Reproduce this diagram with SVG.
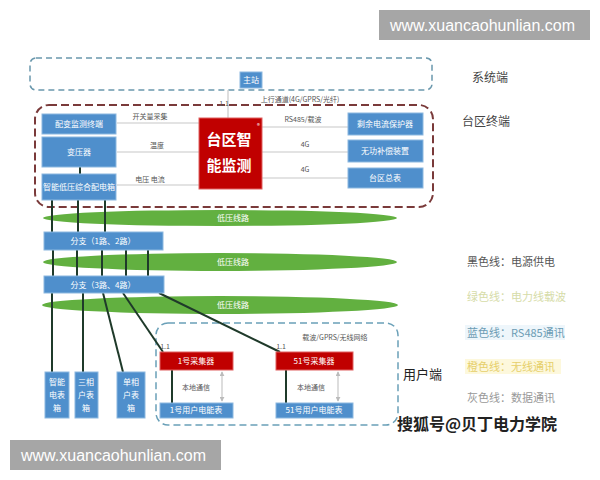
<svg xmlns="http://www.w3.org/2000/svg" width="600" height="480" viewBox="0 0 600 480">
<defs>
<style>
text{font-family:"Noto Sans CJK SC","Liberation Sans",sans-serif}
.bb{fill:#4f8fcc;stroke:#8cb8e0;stroke-width:1}
.rb{fill:#c00000;stroke:#e06060;stroke-width:1}
.wt{fill:#ffffff;font-size:8px;text-anchor:middle}
.lb{fill:#555;font-size:7px;text-anchor:middle}
.gl{stroke:#c8c8c8;stroke-width:1.2;fill:none}
.pw{stroke:#1f3a2a;stroke-width:2;fill:none}
.ell{fill:#62b040}
.leg{font-size:11px}
.wm{fill:#a6a6a6}
.wmt{fill:#fff;font-family:"Liberation Sans",sans-serif;font-size:16px}
</style>
<marker id="ah" viewBox="0 0 6 6" refX="5" refY="3" markerWidth="5" markerHeight="5" orient="auto-start-reverse"><path d="M0,0L6,3L0,6z" fill="#bbb"/></marker>
</defs>
<rect width="600" height="480" fill="#ffffff"/>

<!-- region frames -->
<rect x="30" y="58" width="402" height="32" rx="6" fill="none" stroke="#6a98ad" stroke-width="1.5" stroke-dasharray="6,4"/>
<rect x="35" y="105" width="398" height="102" rx="14" fill="none" stroke="#7a3a3a" stroke-width="2" stroke-dasharray="8,4"/>
<rect x="156" y="323" width="242" height="102" rx="12" fill="none" stroke="#6aa0b8" stroke-width="1.5" stroke-dasharray="7,4"/>

<!-- green ellipses -->
<g id="line1"><ellipse class="ell" cx="220" cy="218" rx="177" ry="8"/><text class="wt" x="233" y="221" font-size="7">低压线路</text></g>
<g id="line2"><ellipse class="ell" cx="220" cy="262" rx="177" ry="9"/><text class="wt" x="233" y="265" font-size="7">低压线路</text></g>
<g id="line3"><ellipse class="ell" cx="220" cy="305" rx="178" ry="9"/><text class="wt" x="233" y="308" font-size="7">低压线路</text></g>

<!-- connectors -->
<g id="connectors">
<line class="gl" x1="228" y1="90" x2="228" y2="118"/>
<line class="gl" x1="117" y1="123" x2="199" y2="123"/>
<line class="gl" x1="117" y1="152" x2="199" y2="152"/>
<line class="gl" x1="117" y1="185" x2="199" y2="185"/>
<line class="gl" x1="262" y1="127" x2="348" y2="127"/>
<line class="gl" x1="262" y1="152" x2="348" y2="152"/>
<line class="gl" x1="262" y1="178" x2="348" y2="178"/>
<line class="pw" x1="80" y1="167" x2="80" y2="174"/>
<line class="pw" x1="52" y1="200" x2="52" y2="232"/>
<line class="pw" x1="78" y1="200" x2="78" y2="232"/>
<line class="pw" x1="105" y1="200" x2="105" y2="232"/>
<line class="pw" x1="53" y1="250" x2="53" y2="276"/>
<line class="pw" x1="77" y1="250" x2="77" y2="276"/>
<line class="pw" x1="102" y1="250" x2="102" y2="276"/>
<line class="pw" x1="126" y1="250" x2="126" y2="276"/>
<line class="pw" x1="148" y1="250" x2="148" y2="276"/>
<line class="pw" x1="52" y1="293" x2="52" y2="372"/>
<line class="pw" x1="83" y1="293" x2="83" y2="372"/>
<line class="pw" x1="103" y1="293" x2="123" y2="372"/>
<line class="pw" x1="123" y1="293" x2="163" y2="352"/>
<line class="pw" x1="159" y1="293" x2="280" y2="352"/>
<line class="pw" x1="172" y1="370" x2="172" y2="403"/>
<line class="pw" x1="286" y1="370" x2="286" y2="403"/>
<line stroke="#bbb" stroke-width="1" x1="222" y1="372" x2="222" y2="401" marker-start="url(#ah)" marker-end="url(#ah)"/>
<line stroke="#bbb" stroke-width="1" x1="338" y1="372" x2="338" y2="401" marker-start="url(#ah)" marker-end="url(#ah)"/>
</g>

<!-- connector labels -->
<text class="lb" x="300" y="102" fill="#7a9a6a">上行通道(4G/GPRS/光纤)</text>
<text class="lb" x="224" y="106" font-size="6">1.1</text>
<text class="lb" x="150" y="119">开关量采集</text>
<text class="lb" x="157" y="148">温度</text>
<text class="lb" x="150" y="182">电压  电流</text>
<text class="lb" x="303" y="122">RS485/载波</text>
<text class="lb" x="305" y="147">4G</text>
<text class="lb" x="305" y="172">4G</text>
<text class="lb" x="335" y="340">载波/GPRS/无线网络</text>
<text class="lb" x="165" y="349" font-size="6">1.1</text>
<text class="lb" x="281" y="349" font-size="6">1.1</text>
<text class="lb" x="196" y="390">本地通信</text>
<text class="lb" x="311" y="390">本地通信</text>

<!-- nodes -->
<g id="master"><rect class="bb" x="240" y="72" width="22" height="16"/><text class="wt" x="251" y="83" font-size="7">主站</text></g>
<g id="tmonitor"><rect class="bb" x="42" y="114" width="74" height="20"/><text class="wt" x="79" y="127">配变监测终端</text></g>
<g id="transformer"><rect class="bb" x="42" y="137" width="74" height="30"/><text class="wt" x="79" y="155">变压器</text></g>
<g id="dist"><rect class="bb" x="42" y="174" width="74" height="26"/><text class="wt" x="79" y="190" font-size="7">智能低压综合配电箱</text></g>
<g id="smart"><rect class="rb" x="199" y="118" width="63" height="71"/><text x="229" y="145" fill="#fff" font-size="15" text-anchor="middle" font-weight="bold">台区智</text><text x="229" y="171" fill="#fff" font-size="15" text-anchor="middle" font-weight="bold">能监测</text><text x="257" y="128" fill="#fff" font-size="6">®</text></g>
<g id="rcd"><rect class="bb" x="348" y="113" width="75" height="22"/><text class="wt" x="385" y="127">剩余电流保护器</text></g>
<g id="comp"><rect class="bb" x="348" y="140" width="75" height="22"/><text class="wt" x="385" y="154">无功补偿装置</text></g>
<g id="meter"><rect class="bb" x="348" y="168" width="75" height="20"/><text class="wt" x="385" y="181">台区总表</text></g>
<g id="branch1"><rect class="bb" x="44" y="232" width="119" height="18"/><text class="wt" x="103" y="244">分支（1路、2路）</text></g>
<g id="branch2"><rect class="bb" x="44" y="276" width="120" height="17"/><text class="wt" x="103" y="288">分支（3路、4路）</text></g>
<g id="box1"><rect class="bb" x="45" y="372" width="24" height="46"/><text class="wt" x="57" y="385" font-size="7">智能</text><text class="wt" x="57" y="398" font-size="7">电表</text><text class="wt" x="57" y="411" font-size="7">箱</text></g>
<g id="box2"><rect class="bb" x="75" y="372" width="23" height="46"/><text class="wt" x="86" y="385" font-size="7">三相</text><text class="wt" x="86" y="398" font-size="7">户表</text><text class="wt" x="86" y="411" font-size="7">箱</text></g>
<g id="box3"><rect class="bb" x="117" y="372" width="28" height="46"/><text class="wt" x="131" y="385" font-size="7">单相</text><text class="wt" x="131" y="398" font-size="7">户表</text><text class="wt" x="131" y="411" font-size="7">箱</text></g>
<g id="col1"><rect class="rb" x="160" y="352" width="73" height="18"/><text class="wt" x="196" y="364">1号采集器</text></g>
<g id="col51"><rect class="rb" x="276" y="352" width="77" height="18"/><text class="wt" x="314" y="364">51号采集器</text></g>
<g id="um1"><rect class="bb" x="160" y="403" width="73" height="15"/><text class="wt" x="196" y="413" font-size="7">1号用户电能表</text></g>
<g id="um51"><rect class="bb" x="276" y="403" width="77" height="15"/><text class="wt" x="314" y="413" font-size="7">51号用户电能表</text></g>

<!-- side labels -->
<text x="472" y="82" font-size="12" fill="#444">系统端</text>
<text x="462" y="126" font-size="12" fill="#444">台区终端</text>
<text x="403" y="379" font-size="13" fill="#222">用户端</text>
<text x="397" y="430" font-size="16" fill="#222" font-weight="bold">搜狐号@贝丁电力学院</text>

<!-- legend -->
<text class="leg" x="467" y="266" fill="#555">黑色线：电源供电</text>
<text class="leg" x="467" y="301" fill="#d6dca8">绿色线：电力线载波</text>
<rect x="465" y="325" width="100" height="15" fill="#eef6fb"/>
<text class="leg" x="467" y="337" fill="#6c9cb4">蓝色线：RS485通讯</text>
<rect x="465" y="359" width="96" height="15" fill="#fdf8dc"/>
<text class="leg" x="467" y="371" fill="#e6cf6a">橙色线：无线通讯</text>
<text class="leg" x="467" y="402" fill="#999">灰色线：数据通讯</text>

<!-- watermarks -->
<rect class="wm" x="379" y="10" width="211" height="30"/>
<text class="wmt" x="390" y="31">www.xuancaohunlian.com</text>
<rect class="wm" x="10" y="440" width="211" height="30"/>
<text class="wmt" x="21" y="461">www.xuancaohunlian.com</text>
</svg>
